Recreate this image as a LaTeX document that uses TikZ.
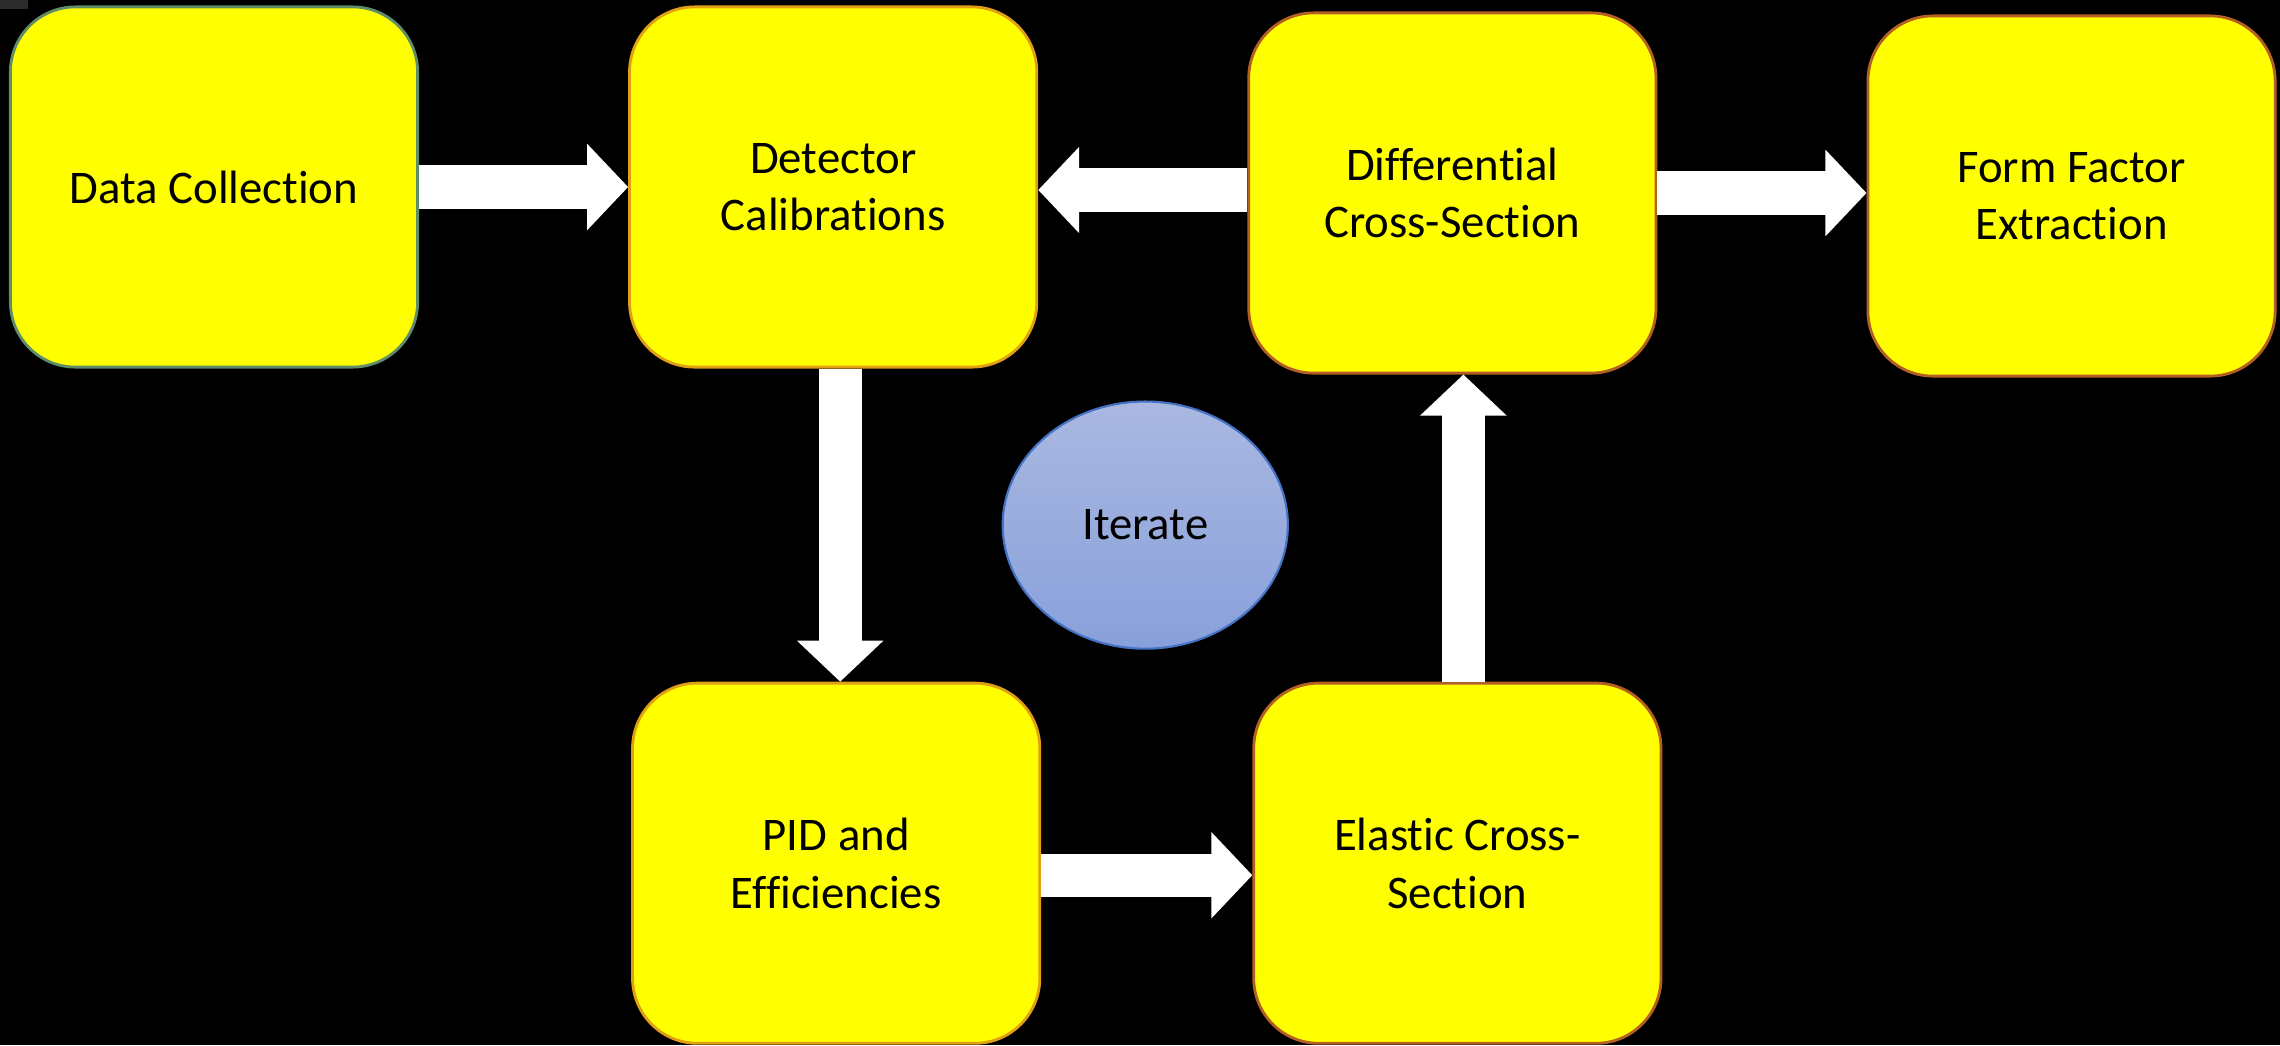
\documentclass[tikz,border=0pt]{standalone}
\usepackage{fontspec}
\setmainfont{Carlito}[Ligatures=NoCommon]
\usetikzlibrary{arrows.meta,positioning,calc,shapes.geometric}
\definecolor{boxyel}{RGB}{255,255,0}
\definecolor{brdgrn}{RGB}{95,140,105}
\definecolor{brdorg}{RGB}{225,160,20}
\definecolor{brdbrn}{RGB}{180,95,35}
\definecolor{elltop}{RGB}{170,184,225}
\definecolor{ellbot}{RGB}{136,160,218}
\definecolor{ellbrd}{RGB}{68,114,196}

\begin{document}
\begin{tikzpicture}[x=0.01cm,y=-0.01cm,font=\fontsize{13.3}{16.4}\selectfont,
  b/.style={draw=brdbrn,line width=0.8pt,fill=boxyel,rounded corners=0.65cm,align=center,
    minimum width=4.07cm,minimum height=3.6cm,inner sep=0pt},
  ba/.style={white,line width=0.43cm,-{Triangle[length=0.41cm,width=0.84cm]}},
  node distance=3.13cm and 2.09cm]
\fill[black] (0,0) rectangle (2280,1045);
\useasboundingbox (0,0) rectangle (2280,1045);
\fill[black!83] (0,0) rectangle (28,9);
\node[b,draw=brdgrn] (data) at (214,187) {Data Collection};
\node[b,draw=brdorg,right=of data] (det) {Detector\\Calibrations};
\node[b,right=of det,yshift=-0.06cm] (diff) {Differential\\Cross-Section};
\node[b,right=of diff,yshift=-0.03cm] (ff) {Form Factor\\Extraction};
\node[b,draw=brdorg,below=of det,xshift=0.03cm] (pid) {PID and\\Efficiencies};
\node[b,right=2.11cm of pid] (el) {Elastic Cross-\\Section};
\node[ellipse,draw=ellbrd,line width=0.6pt,top color=elltop,bottom color=ellbot,
  minimum width=2.85cm,minimum height=2.47cm,inner sep=0pt]
  (it) at ($(det.south east)!0.5!(el.north west)$) {Iterate};
\draw[ba](data.east)--(data.east -| det.west);
\draw[ba]([yshift=0.03cm]diff.west)--([yshift=0.03cm]diff.west -| det.east);
\draw[ba](diff.east)--(diff.east -| ff.west);
\draw[ba]([xshift=0.07cm]det.south)--([xshift=0.07cm]det.south |- pid.north);
\draw[ba]([yshift=-0.12cm]pid.east)--([yshift=-0.12cm]pid.east -| el.west);
\draw[ba]([xshift=0.06cm]el.north)--([xshift=0.06cm]el.north |- diff.south);
\end{tikzpicture}
\end{document}
